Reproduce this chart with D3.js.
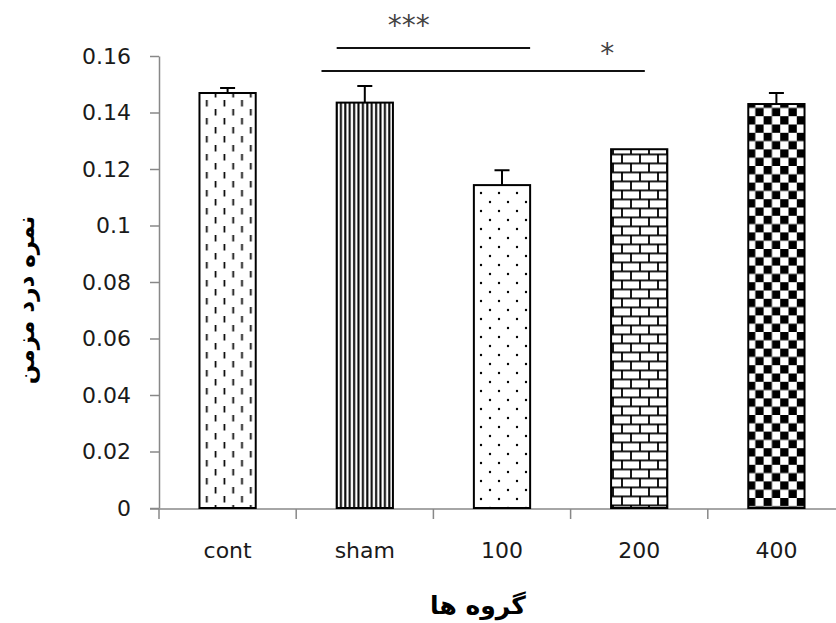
<!DOCTYPE html>
<html>
<head>
<meta charset="utf-8">
<script src="https://cdn.jsdelivr.net/npm/d3@7"></script>
<style>
  body { margin: 0; background: #fff; }
  svg { display: block; }
</style>
</head>
<body>
<svg width="836" height="623"></svg>
<script>
// data
var groups = ["cont", "sham", "100", "200", "400"]
var means = [0.1469, 0.1435, 0.1143, 0.1270, 0.1430]
var errors = [0.0018, 0.0059, 0.0053, 0, 0.0039]
var fills = ["dashes", "vlines", "dots", "bricks", "checker"]
var yTicks = [0, 0.02, 0.04, 0.06, 0.08, 0.1, 0.12, 0.14, 0.16]
var yTitle = "نمره درد مزمن"
var xTitle = "گروه ها"

// significance lines: from/to = [group, offset in bar widths], at = y value
var sigLines = [
    { from: ["sham", 0], to: ["100", 1], at: 0.1628 },
    { from: ["sham", -0.27], to: ["200", 0.6], at: 0.1547 }
]
var sigLabels = [
    { text: "***", pos: ["sham", 1.28], at: 0.1727 },
    { text: "*", pos: ["200", -0.07], at: 0.1628 }
]

var svg = d3.select("svg")
var font = "'DejaVu Sans', Verdana, sans-serif"

var x = d3.scaleBand()
    .domain(groups)
    .range([159, 845])
    .paddingInner(0.59)
    .paddingOuter(0.295)

var y = d3.scaleLinear()
    .domain([0, 0.16])
    .range([508, 56])

function px(p) {
    return x(p[0]) + p[1] * x.bandwidth()
}

// patterns
var defs = svg.append("defs")

var p = defs.append("pattern").attr("id", "dashes")
    .attr("patternUnits", "userSpaceOnUse").attr("width", 17.6).attr("height", 18)
p.append("line").attr("x1", 4.4).attr("x2", 4.4).attr("y1", 1).attr("y2", 7.5)
    .attr("stroke", "#000").attr("stroke-width", 1.7)
p.append("line").attr("x1", 13.2).attr("x2", 13.2).attr("y1", 10).attr("y2", 16.5)
    .attr("stroke", "#000").attr("stroke-width", 1.7)

p = defs.append("pattern").attr("id", "vlines")
    .attr("patternUnits", "userSpaceOnUse").attr("width", 4.4).attr("height", 10)
p.append("rect").attr("x", 1.1).attr("y", 0).attr("width", 2).attr("height", 10).attr("fill", "#000")

p = defs.append("pattern").attr("id", "dots")
    .attr("patternUnits", "userSpaceOnUse").attr("width", 18).attr("height", 18)
p.append("circle").attr("cx", 4).attr("cy", 4).attr("r", 1.2).attr("fill", "#000")
p.append("circle").attr("cx", 13).attr("cy", 13).attr("r", 1.2).attr("fill", "#000")

p = defs.append("pattern").attr("id", "bricks")
    .attr("patternUnits", "userSpaceOnUse").attr("width", 18).attr("height", 18)
    .attr("y", 0.5)
p.append("path")
    .attr("d", "M0,0.9H18M0,9.9H18M1,0V9.9M10,9.9V18")
    .attr("stroke", "#000").attr("stroke-width", 1.8).attr("fill", "none")

p = defs.append("pattern").attr("id", "checker")
    .attr("patternUnits", "userSpaceOnUse").attr("width", 16.6).attr("height", 16.6)
p.append("rect").attr("x", 0).attr("y", 0).attr("width", 8.3).attr("height", 8.3).attr("fill", "#000")
p.append("rect").attr("x", 8.3).attr("y", 8.3).attr("width", 8.3).attr("height", 8.3).attr("fill", "#000")

// axes
var yAxis = svg.append("g")
    .attr("transform", "translate(159,0)")
    .call(d3.axisLeft(y).tickValues(yTicks).tickSize(9).tickSizeOuter(0).tickPadding(19)
        .tickFormat(function (d) { return d === 0 ? "0" : d3.format("")(+d.toFixed(2)) }))
yAxis.select(".domain").attr("stroke", "#888").attr("stroke-width", 1.5)
yAxis.selectAll(".tick line").attr("stroke", "#888").attr("stroke-width", 1.5)
yAxis.selectAll("text").attr("font-family", font).attr("font-size", 22).attr("fill", "#1a1a1a")

var xAxis = svg.append("g")
    .attr("transform", "translate(0,509)")
xAxis.append("line").attr("x1", 150).attr("x2", 846).attr("stroke", "#888").attr("stroke-width", 1.5)
var bounds = groups.map(function (g) { return x(g) - x.step() * x.paddingOuter() })
bounds.push(845)
xAxis.selectAll(".xt").data(bounds).enter().append("line")
    .attr("x1", function (d) { return d }).attr("x2", function (d) { return d })
    .attr("y1", 0).attr("y2", 10)
    .attr("stroke", "#888").attr("stroke-width", 1.5)
xAxis.selectAll(".xl").data(groups).enter().append("text")
    .attr("x", function (d) { return x(d) + x.bandwidth() / 2 })
    .attr("y", 49)
    .attr("text-anchor", "middle")
    .attr("font-family", font).attr("font-size", 22).attr("fill", "#1a1a1a")
    .text(function (d) { return d })

// bars
var data = groups.map(function (g, i) {
    return { g: g, v: means[i], e: errors[i], f: fills[i] }
})

svg.selectAll(".err").data(data.filter(function (d) { return d.e > 0 })).enter().append("path")
    .attr("d", function (d) {
        var cx = x(d.g) + x.bandwidth() / 2
        return "M" + cx + "," + y(d.v) + "V" + y(d.v + d.e) + "M" + (cx - 7.5) + "," + y(d.v + d.e) + "H" + (cx + 7.5)
    })
    .attr("stroke", "#000").attr("stroke-width", 2).attr("fill", "none")

svg.selectAll(".bar").data(data).enter().append("rect")
    .attr("x", function (d) { return x(d.g) })
    .attr("y", function (d) { return y(d.v) })
    .attr("width", x.bandwidth())
    .attr("height", function (d) { return y(0) - y(d.v) })
    .attr("fill", "#fff")
svg.selectAll(".barp").data(data).enter().append("rect")
    .attr("x", function (d) { return x(d.g) })
    .attr("y", function (d) { return y(d.v) })
    .attr("width", x.bandwidth())
    .attr("height", function (d) { return y(0) - y(d.v) })
    .attr("fill", function (d) { return "url(#" + d.f + ")" })
    .attr("stroke", "#000").attr("stroke-width", 2)

// significance
svg.selectAll(".sig").data(sigLines).enter().append("line")
    .attr("x1", function (d) { return px(d.from) })
    .attr("x2", function (d) { return px(d.to) })
    .attr("y1", function (d) { return y(d.at) })
    .attr("y2", function (d) { return y(d.at) })
    .attr("stroke", "#111").attr("stroke-width", 2)
svg.selectAll(".sigt").data(sigLabels).enter().append("text")
    .attr("x", function (d) { return px(d.pos) })
    .attr("y", function (d) { return y(d.at) + 15 })
    .attr("text-anchor", "middle")
    .attr("font-family", font).attr("font-size", 28).attr("fill", "#444")
    .text(function (d) { return d.text })

// titles
svg.append("text")
    .attr("transform", "translate(34,300) rotate(-90)")
    .attr("text-anchor", "middle")
    .attr("direction", "rtl")
    .attr("font-family", font).attr("font-size", 23).attr("font-weight", "bold").attr("fill", "#000")
    .text(yTitle)

svg.append("text")
    .attr("x", 478).attr("y", 614)
    .attr("text-anchor", "middle")
    .attr("direction", "rtl")
    .attr("font-family", font).attr("font-size", 25).attr("font-weight", "bold").attr("fill", "#000")
    .text(xTitle)
</script>
</body>
</html>
